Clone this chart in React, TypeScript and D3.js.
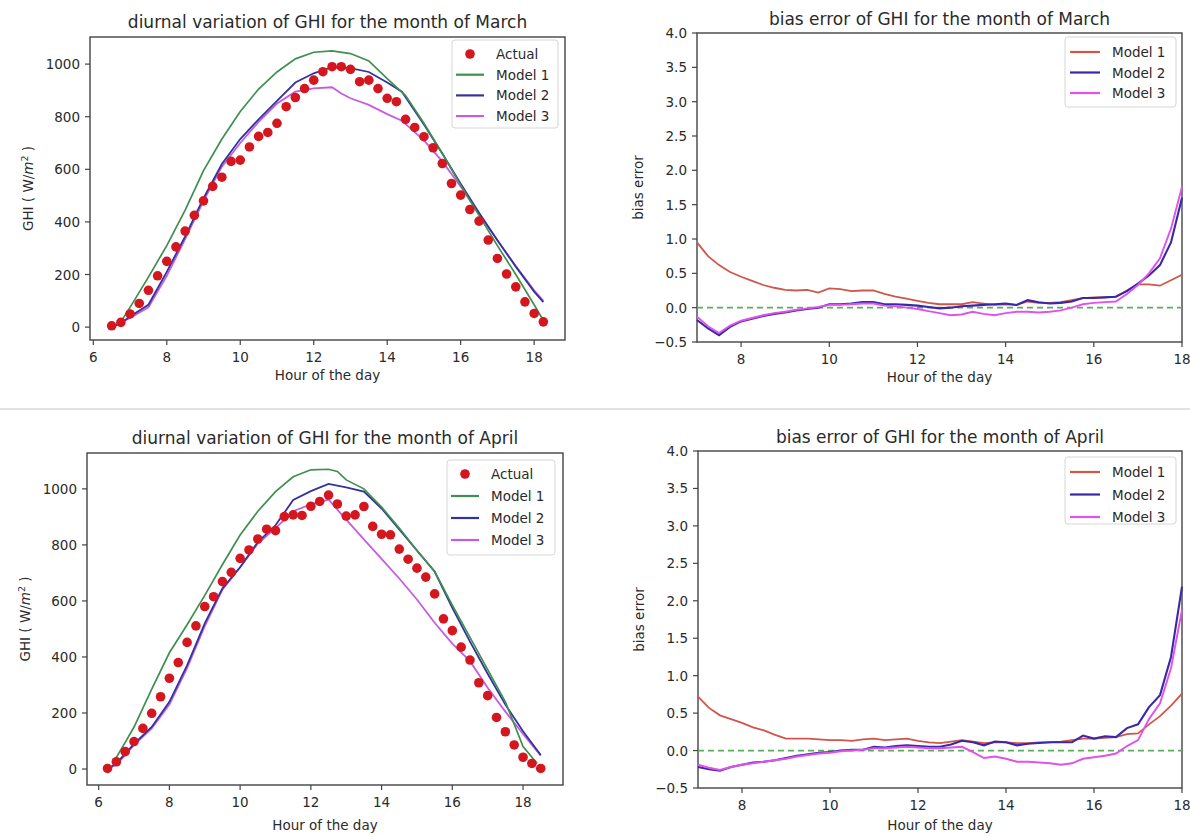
import React from "react";
import * as d3 from "d3";

const FONT = "'DejaVu Sans', sans-serif";
const TEXT = "#2a2a2a";
const SPINE = "#444444";
const TICK_FS = 13.5;
const LABEL_FS = 13.5;
const TITLE_FS = 17;
const LEGEND_FS = 13.5;

// ---------- GHI, March ----------
const MARCH_HOURS = [6.5, 6.75, 7, 7.25, 7.5, 7.75, 8, 8.25, 8.5, 8.75, 9, 9.25, 9.5, 9.75, 10, 10.25, 10.5, 10.75, 11, 11.25, 11.5, 11.75, 12, 12.25, 12.5, 12.75, 13, 13.25, 13.5, 13.75, 14, 14.25, 14.5, 14.75, 15, 15.25, 15.5, 15.75, 16, 16.25, 16.5, 16.75, 17, 17.25, 17.5, 17.75, 18, 18.25];
const MARCH_ACTUAL = [5, 18, 50, 90, 140, 195, 250, 305, 365, 425, 480, 535, 570, 630, 635, 685, 725, 740, 775, 838, 873, 907, 939, 971, 990, 990, 980, 933, 939, 907, 870, 857, 790, 759, 724, 682, 622, 546, 502, 447, 403, 331, 261, 202, 153, 96, 52, 20];

const MARCH_M1_HOURS = [6.75, 7, 7.5, 8, 8.5, 9, 9.5, 10, 10.5, 11, 11.5, 12, 12.5, 13, 13.5, 14, 14.5, 15, 15.5, 16, 16.5, 17, 17.5, 18, 18.25];
const MARCH_M1 = [20, 75, 190, 310, 445, 595, 715, 820, 905, 970, 1020, 1045, 1050, 1040, 1012, 945, 880, 775, 660, 540, 425, 310, 200, 85, 25];
const MARCH_M2_HOURS = [6.5, 6.75, 7, 7.5, 8, 8.5, 9, 9.5, 10, 10.5, 11, 11.5, 12, 12.5, 13, 13.5, 14, 14.4, 15, 15.5, 16, 16.5, 17, 17.5, 18, 18.25];
const MARCH_M2 = [0, 15, 40, 85, 210, 345, 490, 620, 715, 790, 860, 930, 965, 988, 985, 970, 930, 895, 770, 660, 545, 435, 330, 230, 135, 95];
const MARCH_M3_HOURS = [6.5, 7, 7.5, 8, 8.5, 9, 9.5, 10, 10.5, 11, 11.5, 12, 12.5, 12.75, 13, 13.5, 14, 14.4, 15, 15.5, 16, 16.5, 17, 17.5, 18, 18.25];
const MARCH_M3 = [0, 35, 75, 195, 335, 480, 610, 700, 780, 850, 895, 908, 912, 888, 870, 845, 810, 785, 710, 630, 535, 430, 330, 232, 140, 100];

// ---------- GHI, April ----------
const APRIL_HOURS = [6.25, 6.5, 6.75, 7, 7.25, 7.5, 7.75, 8, 8.25, 8.5, 8.75, 9, 9.25, 9.5, 9.75, 10, 10.25, 10.5, 10.75, 11, 11.25, 11.5, 11.75, 12, 12.25, 12.5, 12.75, 13, 13.25, 13.5, 13.75, 14, 14.25, 14.5, 14.75, 15, 15.25, 15.5, 15.75, 16, 16.25, 16.5, 16.75, 17, 17.25, 17.5, 17.75, 18, 18.25, 18.5];
const APRIL_ACTUAL = [2, 26, 62, 98, 145, 199, 258, 324, 380, 452, 511, 580, 615, 669, 702, 752, 782, 821, 856, 851, 901, 907, 905, 938, 955, 978, 946, 903, 907, 937, 866, 838, 836, 785, 749, 717, 685, 625, 536, 494, 435, 389, 308, 262, 184, 133, 86, 42, 20, 2];

const APRIL_M1_HOURS = [6.4, 6.75, 7, 7.5, 8, 8.5, 9, 9.5, 10, 10.5, 11, 11.5, 12, 12.5, 12.75, 13, 13.5, 14, 14.5, 15, 15.5, 16, 16.5, 17, 17.5, 18, 18.4];
const APRIL_M1 = [20, 95, 150, 285, 415, 515, 620, 730, 835, 920, 990, 1043, 1068, 1070, 1062, 1032, 1000, 935, 860, 780, 705, 585, 470, 355, 240, 80, 20];
const APRIL_M2_HOURS = [6.25, 6.5, 7, 7.5, 8, 8.5, 9, 9.5, 10, 10.5, 11, 11.5, 12, 12.5, 13, 13.5, 14, 14.5, 15, 15.5, 16, 16.5, 17, 17.5, 18, 18.5];
const APRIL_M2 = [0, 20, 90, 150, 240, 370, 520, 645, 720, 810, 870, 960, 992, 1018, 1005, 990, 930, 855, 780, 705, 575, 455, 340, 230, 135, 50];
const APRIL_M3_HOURS = [6.25, 6.5, 7, 7.5, 8, 8.5, 9, 9.5, 10, 10.5, 11, 11.5, 12, 12.5, 13, 13.5, 14, 14.5, 15, 15.5, 16, 16.5, 17, 17.5, 18, 18.5];
const APRIL_M3 = [0, 15, 85, 145, 230, 360, 510, 640, 720, 805, 860, 920, 945, 962, 890, 820, 750, 680, 605, 522, 448, 385, 290, 205, 125, 48];

// ---------- Bias error ----------
const BIAS_HOURS = [7, 7.25, 7.5, 7.75, 8, 8.25, 8.5, 8.75, 9, 9.25, 9.5, 9.75, 10, 10.25, 10.5, 10.75, 11, 11.25, 11.5, 11.75, 12, 12.25, 12.5, 12.75, 13, 13.25, 13.5, 13.75, 14, 14.25, 14.5, 14.75, 15, 15.25, 15.5, 15.75, 16, 16.25, 16.5, 16.75, 17, 17.25, 17.5, 17.75, 18];

const MARCH_BIAS_M1 = [0.95, 0.75, 0.62, 0.52, 0.45, 0.39, 0.33, 0.29, 0.26, 0.25, 0.26, 0.22, 0.28, 0.27, 0.24, 0.25, 0.25, 0.2, 0.16, 0.13, 0.1, 0.07, 0.05, 0.05, 0.05, 0.08, 0.06, 0.04, 0.05, 0.04, 0.09, 0.07, 0.07, 0.08, 0.11, 0.14, 0.15, 0.15, 0.16, 0.25, 0.34, 0.34, 0.32, 0.4, 0.48];
const MARCH_BIAS_M2 = [-0.18, -0.3, -0.4, -0.28, -0.2, -0.16, -0.12, -0.09, -0.07, -0.04, -0.02, 0.0, 0.05, 0.05, 0.06, 0.08, 0.08, 0.05, 0.05, 0.04, 0.03, 0.01, -0.01, 0.0, 0.02, 0.03, 0.04, 0.05, 0.06, 0.04, 0.11, 0.08, 0.06, 0.07, 0.09, 0.14, 0.14, 0.15, 0.16, 0.24, 0.35, 0.47, 0.62, 0.95, 1.6];
const MARCH_BIAS_M3 = [-0.13, -0.27, -0.37, -0.26, -0.19, -0.15, -0.11, -0.08, -0.06, -0.03, -0.01, 0.01, 0.04, 0.04, 0.05, 0.06, 0.06, 0.03, 0.02, 0.0, -0.02, -0.05, -0.08, -0.11, -0.1, -0.06, -0.09, -0.11, -0.08, -0.06, -0.06, -0.07, -0.06, -0.04, 0.0, 0.05, 0.07, 0.08, 0.09, 0.2, 0.33, 0.5, 0.72, 1.15, 1.76];

const APRIL_BIAS_M1 = [0.72, 0.57, 0.47, 0.42, 0.37, 0.31, 0.27, 0.21, 0.16, 0.16, 0.16, 0.15, 0.14, 0.14, 0.13, 0.15, 0.16, 0.14, 0.15, 0.16, 0.13, 0.11, 0.1, 0.12, 0.14, 0.12, 0.1, 0.11, 0.11, 0.1, 0.1, 0.11, 0.11, 0.12, 0.14, 0.16, 0.16, 0.17, 0.18, 0.22, 0.23, 0.35, 0.46, 0.6, 0.76];
const APRIL_BIAS_M2 = [-0.22, -0.25, -0.27, -0.22, -0.19, -0.16, -0.15, -0.13, -0.1, -0.07, -0.05, -0.03, -0.02, 0.0, 0.01, 0.01, 0.05, 0.04, 0.06, 0.07, 0.06, 0.05, 0.05, 0.08, 0.13, 0.11, 0.07, 0.12, 0.11, 0.07, 0.09, 0.1, 0.11, 0.11, 0.11, 0.2, 0.16, 0.19, 0.18, 0.3, 0.35, 0.58, 0.74, 1.25, 2.19];
const APRIL_BIAS_M3 = [-0.19, -0.23, -0.26, -0.22, -0.19, -0.17, -0.15, -0.13, -0.11, -0.08, -0.06, -0.04, -0.03, -0.01, 0.0, 0.01, 0.03, 0.03, 0.04, 0.05, 0.04, 0.03, 0.03, 0.04, 0.05, -0.02, -0.1, -0.08, -0.11, -0.15, -0.15, -0.16, -0.17, -0.19, -0.17, -0.11, -0.09, -0.07, -0.04, 0.06, 0.14, 0.42, 0.63, 1.1, 1.88];

// ---------- ticks & labels ----------
const GHI_X_TICKS = [6, 8, 10, 12, 14, 16, 18];
const GHI_Y_TICKS = [0, 200, 400, 600, 800, 1000];
const BIAS_X_TICKS = [8, 10, 12, 14, 16, 18];
const BIAS_Y_TICKS = [-0.5, 0, 0.5, 1, 1.5, 2, 2.5, 3, 3.5, 4];
const MODEL_NAMES = ["Model 1", "Model 2", "Model 3"];

const GHI_COLORS = { actual: "#d4161f", m1: "#3f8f4f", m2: "#33339e", m3: "#c65ce0" };
const BIAS_COLORS = ["#d0564a", "#3a28a8", "#e052ee"];
const ZERO_COLOR = "#5aae5a";

const zip = (xs: number[], ys: number[]): [number, number][] => xs.map((v, i) => [v, ys[i]]);

function Axes({ box, x, y, xTicks, yTicks, yFmt, title, titleY, xLabelY, yLabel, yLabelX }: any) {
  return (
    <g>
      <rect x={box.l} y={box.t} width={box.r - box.l} height={box.b - box.t} fill="none" stroke={SPINE} strokeWidth={1.4} />
      {xTicks.map((t: number) => (
        <g key={"x" + t}>
          <line x1={x(t)} x2={x(t)} y1={box.b} y2={box.b + 5} stroke={SPINE} strokeWidth={1.2} />
          <text x={x(t)} y={box.b + 22} textAnchor="middle" fontSize={TICK_FS} fill={TEXT} fontFamily={FONT}>{t}</text>
        </g>
      ))}
      {yTicks.map((t: number) => (
        <g key={"y" + t}>
          <line x1={box.l - 5} x2={box.l} y1={y(t)} y2={y(t)} stroke={SPINE} strokeWidth={1.2} />
          <text x={box.l - 10} y={y(t) + 5} textAnchor="end" fontSize={TICK_FS} fill={TEXT} fontFamily={FONT}>{yFmt(t)}</text>
        </g>
      ))}
      <text x={(box.l + box.r) / 2} y={titleY} textAnchor="middle" fontSize={TITLE_FS} fill={TEXT} fontFamily={FONT}>{title}</text>
      <text x={(box.l + box.r) / 2} y={xLabelY} textAnchor="middle" fontSize={LABEL_FS} fill={TEXT} fontFamily={FONT}>Hour of the day</text>
      <g transform={`translate(${yLabelX},${(box.t + box.b) / 2}) rotate(-90)`}>
        {yLabel}
      </g>
    </g>
  );
}

function GhiPanel({ box, xDomain, yDomain, title, titleY, xLabelY, hours, actual, m1, m2, m3, legend }: any) {
  const x = d3.scaleLinear().domain(xDomain).range([box.l, box.r]);
  const y = d3.scaleLinear().domain(yDomain).range([box.b, box.t]);
  const line = d3.line<[number, number]>().x((d) => x(d[0])).y((d) => y(d[1]));
  const yLabel = (
    <text textAnchor="middle" y={5} fontSize={LABEL_FS} fill={TEXT} fontFamily={FONT}>
      GHI ( W/<tspan fontStyle="italic">m</tspan><tspan dy={-5.5} fontSize={9.5}>2</tspan><tspan dy={5.5}> )</tspan>
    </text>
  );
  const lg = legend;
  const rows = [
    { label: "Actual", kind: "dot", color: GHI_COLORS.actual },
    { label: MODEL_NAMES[0], kind: "line", color: GHI_COLORS.m1 },
    { label: MODEL_NAMES[1], kind: "line", color: GHI_COLORS.m2 },
    { label: MODEL_NAMES[2], kind: "line", color: GHI_COLORS.m3 },
  ];
  return (
    <g>
      <Axes box={box} x={x} y={y} xTicks={GHI_X_TICKS} yTicks={GHI_Y_TICKS} yFmt={(t: number) => String(t)}
        title={title} titleY={titleY} xLabelY={xLabelY} yLabel={yLabel} yLabelX={box.l - 62} />
      <path d={line(zip(m3.h, m3.v)) || ""} fill="none" stroke={GHI_COLORS.m3} strokeWidth={1.8} />
      <path d={line(zip(m2.h, m2.v)) || ""} fill="none" stroke={GHI_COLORS.m2} strokeWidth={1.8} />
      <path d={line(zip(m1.h, m1.v)) || ""} fill="none" stroke={GHI_COLORS.m1} strokeWidth={1.7} />
      {hours.map((h: number, i: number) => (
        <circle key={i} cx={x(h)} cy={y(actual[i])} r={4.8} fill={GHI_COLORS.actual} />
      ))}
      <rect x={lg.x} y={lg.y} width={lg.w} height={lg.h} rx={3} fill="#ffffff" fillOpacity={0.85} stroke="#d6d6d6" strokeWidth={1} />
      {rows.map((r, i) => {
        const cy = lg.y + 14 + i * lg.step;
        return (
          <g key={r.label}>
            {r.kind === "dot" ? (
              <circle cx={lg.x + 18} cy={cy} r={4.8} fill={r.color} />
            ) : (
              <line x1={lg.x + 4} x2={lg.x + 32} y1={cy} y2={cy} stroke={r.color} strokeWidth={2.2} />
            )}
            <text x={lg.x + 44} y={cy + 5} fontSize={LEGEND_FS} fill={TEXT} fontFamily={FONT}>{r.label}</text>
          </g>
        );
      })}
    </g>
  );
}

function BiasPanel({ box, title, titleY, xLabelY, m1, m2, m3, legend }: any) {
  const x = d3.scaleLinear().domain([7, 18]).range([box.l, box.r]);
  const y = d3.scaleLinear().domain([-0.5, 4]).range([box.b, box.t]);
  const line = d3.line<[number, number]>().x((d) => x(d[0])).y((d) => y(d[1]));
  const yLabel = (
    <text textAnchor="middle" y={5} fontSize={LABEL_FS} fill={TEXT} fontFamily={FONT}>bias error</text>
  );
  const fmt = (t: number) => d3.format(".1f")(t).replace("-", "\u2212");
  const lg = legend;
  const series = [m1, m2, m3];
  return (
    <g>
      <Axes box={box} x={x} y={y} xTicks={BIAS_X_TICKS} yTicks={BIAS_Y_TICKS} yFmt={fmt}
        title={title} titleY={titleY} xLabelY={xLabelY} yLabel={yLabel} yLabelX={box.l - 59} />
      <line x1={box.l} x2={box.r} y1={y(0)} y2={y(0)} stroke={ZERO_COLOR} strokeWidth={1.7} strokeDasharray="6,4" />
      <path d={line(zip(BIAS_HOURS, m1)) || ""} fill="none" stroke={BIAS_COLORS[0]} strokeWidth={1.8} />
      <path d={line(zip(BIAS_HOURS, m2)) || ""} fill="none" stroke={BIAS_COLORS[1]} strokeWidth={2.1} />
      <path d={line(zip(BIAS_HOURS, m3)) || ""} fill="none" stroke={BIAS_COLORS[2]} strokeWidth={1.9} />
      <rect x={lg.x} y={lg.y} width={lg.w} height={lg.h} rx={3} fill="#ffffff" fillOpacity={0.85} stroke="#d6d6d6" strokeWidth={1} />
      {series.map((s, i) => {
        const cy = lg.y + 15 + i * lg.step;
        return (
          <g key={i}>
            <line x1={lg.x + 5} x2={lg.x + 35} y1={cy} y2={cy} stroke={BIAS_COLORS[i]} strokeWidth={2.2} />
            <text x={lg.x + 47} y={cy + 5} fontSize={LEGEND_FS} fill={TEXT} fontFamily={FONT}>{MODEL_NAMES[i]}</text>
          </g>
        );
      })}
    </g>
  );
}

export default function App() {
  return (
    <svg width={1190} height={836} style={{ position: "absolute", left: 0, top: 0, background: "#fff" }}>
      <rect x={0} y={0} width={1190} height={836} fill="#ffffff" />
      <line x1={0} x2={1190} y1={409} y2={409} stroke="#e2e2e2" strokeWidth={2} />
      <GhiPanel
        box={{ l: 90, r: 565, t: 37, b: 340 }}
        xDomain={[5.91, 18.84]}
        yDomain={[-49, 1103]}
        title="diurnal variation of GHI for the month of March"
        titleY={28}
        xLabelY={380}
        hours={MARCH_HOURS}
        actual={MARCH_ACTUAL}
        m1={{ h: MARCH_M1_HOURS, v: MARCH_M1 }}
        m2={{ h: MARCH_M2_HOURS, v: MARCH_M2 }}
        m3={{ h: MARCH_M3_HOURS, v: MARCH_M3 }}
        legend={{ x: 452, y: 40, w: 106, h: 88, step: 20.7 }}
      />
      <BiasPanel
        box={{ l: 697, r: 1182, t: 33, b: 342 }}
        title="bias error of GHI for the month of March"
        titleY={25}
        xLabelY={382}
        m1={MARCH_BIAS_M1}
        m2={MARCH_BIAS_M2}
        m3={MARCH_BIAS_M3}
        legend={{ x: 1065, y: 37, w: 111, h: 70, step: 20.5 }}
      />
      <GhiPanel
        box={{ l: 87, r: 563, t: 453, b: 785 }}
        xDomain={[5.67, 19.13]}
        yDomain={[-57, 1128]}
        title="diurnal variation of GHI for the month of April"
        titleY={444}
        xLabelY={830}
        hours={APRIL_HOURS}
        actual={APRIL_ACTUAL}
        m1={{ h: APRIL_M1_HOURS, v: APRIL_M1 }}
        m2={{ h: APRIL_M2_HOURS, v: APRIL_M2 }}
        m3={{ h: APRIL_M3_HOURS, v: APRIL_M3 }}
        legend={{ x: 447, y: 460, w: 108, h: 95, step: 22 }}
      />
      <BiasPanel
        box={{ l: 698, r: 1182, t: 451, b: 788 }}
        title="bias error of GHI for the month of April"
        titleY={443}
        xLabelY={830}
        m1={APRIL_BIAS_M1}
        m2={APRIL_BIAS_M2}
        m3={APRIL_BIAS_M3}
        legend={{ x: 1065, y: 457, w: 111, h: 67, step: 22.5 }}
      />
    </svg>
  );
}
